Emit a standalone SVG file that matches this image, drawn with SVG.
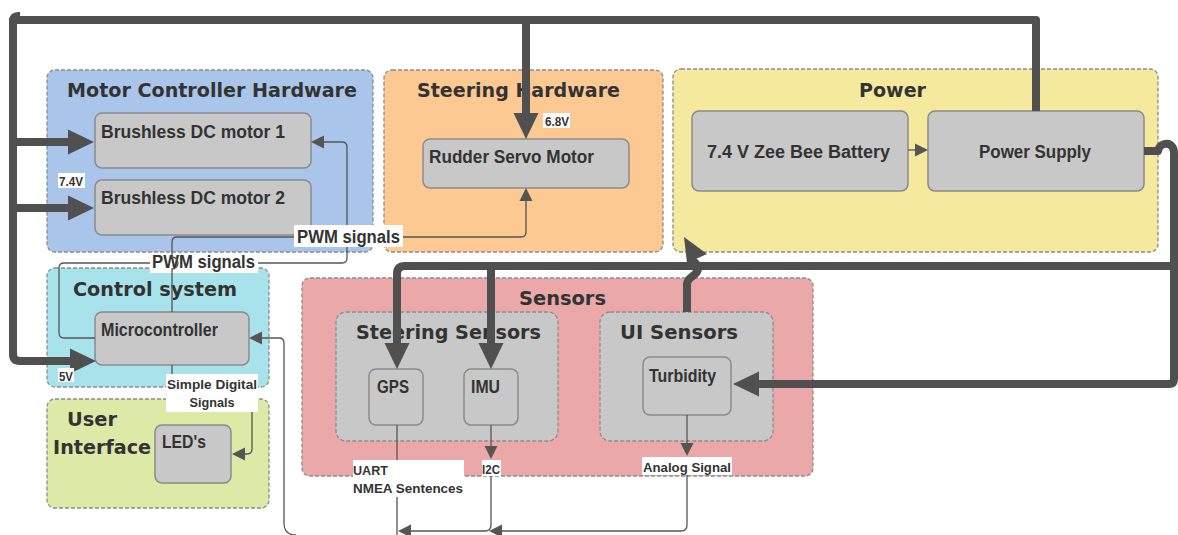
<svg xmlns="http://www.w3.org/2000/svg" width="1178" height="535" viewBox="0 0 1178 535">
<style>
.grp{stroke:#8c8c8c;stroke-width:1.3;stroke-dasharray:4 2}
.node{fill:#c8c8c8;stroke:#8a8a8a;stroke-width:1.5}
.title{font-family:'DejaVu Sans','Liberation Sans',Arial,sans-serif;font-weight:bold;font-size:19px;fill:#333}
.lbl{font-family:'Liberation Sans',Arial,sans-serif;font-weight:bold;font-size:18px;fill:#333}
.sm{font-family:'Liberation Sans',Arial,sans-serif;font-weight:bold;font-size:13.5px;fill:#333}
.tag{fill:#fff}
.thick{fill:none;stroke:#505050;stroke-width:8;stroke-linejoin:round}
.thin{fill:none;stroke:#555;stroke-width:1.3}
</style>
<defs>
<marker id="big" markerUnits="userSpaceOnUse" markerWidth="26" markerHeight="25" refX="0" refY="12.5" orient="auto" overflow="visible"><path d="M0,0 L26,12.5 L0,25 z" fill="#505050"/></marker>
<marker id="small" markerUnits="userSpaceOnUse" markerWidth="13" markerHeight="13" refX="0" refY="6.5" orient="auto" overflow="visible"><path d="M0,0 L13,6.5 L0,13 z" fill="#555"/></marker>
</defs>
<rect width="1178" height="535" fill="#fff"/>

<g id="motor-controller-hardware">
<rect class="grp" x="47" y="70" width="326" height="182" rx="8" fill="#a9c6ea"/>
<text class="title" x="67" y="97" textLength="290" lengthAdjust="spacingAndGlyphs">Motor Controller Hardware</text>
</g>
<g id="steering-hardware">
<rect class="grp" x="384" y="70" width="279" height="182" rx="8" fill="#fdc993"/>
<text class="title" x="417" y="97" textLength="203" lengthAdjust="spacingAndGlyphs">Steering Hardware</text>
</g>
<g id="power">
<rect class="grp" x="673" y="69" width="485" height="183" rx="8" fill="#f4e99d"/>
<text class="title" x="859" y="97" textLength="67" lengthAdjust="spacingAndGlyphs">Power</text>
</g>
<g id="control-system">
<rect class="grp" x="47" y="268" width="222" height="119" rx="8" fill="#a8e3ec"/>
<text class="title" x="73" y="296" textLength="164" lengthAdjust="spacingAndGlyphs">Control system</text>
</g>
<g id="user-interface">
<rect class="grp" x="47" y="399" width="222" height="109" rx="8" fill="#dde9a7"/>
<text class="title" x="67" y="426" textLength="50" lengthAdjust="spacingAndGlyphs">User</text>
<text class="title" x="53" y="454" textLength="98" lengthAdjust="spacingAndGlyphs">Interface</text>
</g>
<g id="sensors">
<rect class="grp" x="302" y="278" width="511" height="198" rx="8" fill="#eaa9a8"/>
<text class="title" x="519" y="305" textLength="87" lengthAdjust="spacingAndGlyphs">Sensors</text>
</g>
<g id="steering-sensors">
<rect class="grp" x="336" y="312" width="222" height="129" rx="10" fill="#c8c8c8"/>
<text class="title" x="356" y="339" textLength="185" lengthAdjust="spacingAndGlyphs">Steering Sensors</text>
</g>
<g id="ui-sensors">
<rect class="grp" x="600" y="312" width="173" height="129" rx="10" fill="#c8c8c8"/>
<text class="title" x="620" y="339" textLength="118" lengthAdjust="spacingAndGlyphs">UI Sensors</text>
</g>

<g id="bldc-motor-1">
<rect class="node" x="95" y="113" width="216" height="55" rx="7"/>
<text class="lbl" x="101" y="138" textLength="184" lengthAdjust="spacingAndGlyphs">Brushless  DC  motor  1</text>
</g>
<g id="bldc-motor-2">
<rect class="node" x="95" y="180" width="216" height="55" rx="7"/>
<text class="lbl" x="101" y="204" textLength="184" lengthAdjust="spacingAndGlyphs">Brushless  DC  motor  2</text>
</g>
<g id="rudder-servo">
<rect class="node" x="423" y="139" width="206" height="49" rx="7"/>
<text class="lbl" x="429" y="163" textLength="165" lengthAdjust="spacingAndGlyphs">Rudder  Servo  Motor</text>
</g>
<g id="battery">
<rect class="node" x="692" y="111" width="216" height="80" rx="7"/>
<text class="lbl" x="707" y="158" textLength="183" lengthAdjust="spacingAndGlyphs">7.4  V  Zee  Bee  Battery</text>
</g>
<g id="power-supply">
<rect class="node" x="928" y="111" width="216" height="80" rx="7"/>
<text class="lbl" x="979" y="158" textLength="112" lengthAdjust="spacingAndGlyphs">Power  Supply</text>
</g>
<g id="microcontroller">
<rect class="node" x="95" y="312" width="154" height="53" rx="7"/>
<text class="lbl" x="101" y="336" textLength="117" lengthAdjust="spacingAndGlyphs">Microcontroller</text>
</g>
<g id="leds">
<rect class="node" x="155" y="425" width="76" height="58" rx="7"/>
<text class="lbl" x="162" y="448" textLength="44" lengthAdjust="spacingAndGlyphs">LED's</text>
</g>
<g id="gps">
<rect class="node" x="369" y="369" width="54" height="56" rx="7"/>
<text class="lbl" x="377" y="393" textLength="32" lengthAdjust="spacingAndGlyphs">GPS</text>
</g>
<g id="imu">
<rect class="node" x="464" y="369" width="54" height="56" rx="7"/>
<text class="lbl" x="471" y="393" textLength="29" lengthAdjust="spacingAndGlyphs">IMU</text>
</g>
<g id="turbidity">
<rect class="node" x="643" y="357" width="88" height="58" rx="7"/>
<text class="lbl" x="649" y="382" textLength="67" lengthAdjust="spacingAndGlyphs">Turbidity</text>
</g>

<g id="connectors">
<path class="thin" d="M95,338 H64 Q59,338 59,333 V268 Q59,263 64,263 H342 Q347,263 347,258 V147 Q347,142 342,142 H324" marker-end="url(#small)"/>
<rect class="tag" x="150" y="253" width="108" height="20"/>
<text class="lbl" x="152" y="268" textLength="103" lengthAdjust="spacingAndGlyphs">PWM  signals</text>
<path class="thin" d="M172,312 V269 A6,6 0 0 0 172,257 V242 Q172,237 177,237 H521 Q526,237 526,232 V201" marker-end="url(#small)"/>
<rect class="tag" x="294" y="225" width="109" height="22"/>
<text class="lbl" x="297" y="243" textLength="103" lengthAdjust="spacingAndGlyphs">PWM  signals</text>

<path class="thin" d="M172,365 V374"/>
<rect class="tag" x="166" y="374" width="92" height="38"/>
<text class="sm" x="212" y="389" text-anchor="middle" textLength="90" lengthAdjust="spacingAndGlyphs">Simple  Digital</text>
<text class="sm" x="212" y="407" text-anchor="middle" textLength="45" lengthAdjust="spacingAndGlyphs">Signals</text>
<path class="thin" d="M252,412 V449 Q252,454 247,454 H245" marker-end="url(#small)"/>

<path class="thin" d="M296,535 Q284,535 284,523 V343 Q284,338 279,338 H262" marker-end="url(#small)"/>

<path class="thin" d="M397,425 V460"/>
<rect class="tag" x="353" y="460" width="111" height="37"/>
<text class="sm" x="353" y="475" textLength="35" lengthAdjust="spacingAndGlyphs">UART</text>
<text class="sm" x="353" y="493" textLength="110" lengthAdjust="spacingAndGlyphs">NMEA  Sentences</text>
<path class="thin" d="M397,497 V535"/>

<path class="thin" d="M491,425 V446" marker-end="url(#small)"/>
<rect class="tag" x="482" y="460" width="19" height="16"/>
<text class="sm" x="482" y="474" textLength="18" lengthAdjust="spacingAndGlyphs">I2C</text>
<path class="thin" d="M491,476 V525 Q491,531 485,531 H411" marker-end="url(#small)"/>

<path class="thin" d="M687,415 V443" marker-end="url(#small)"/>
<rect class="tag" x="642" y="457" width="90" height="18"/>
<text class="sm" x="643" y="472" textLength="88" lengthAdjust="spacingAndGlyphs">Analog  Signal</text>
<path class="thin" d="M687,475 V525 Q687,531 681,531 H502" marker-end="url(#small)"/>

<path class="thin" d="M908,150 H915" marker-end="url(#small)"/>

<path class="thick" d="M1036,111 V20 H13 V354 Q13,361 20,361 H70" marker-end="url(#big)"/>
<path d="M9,22 Q9,11 20,12 L20,20 Z" fill="#505050"/>
<path d="M1028,17 Q1041,13 1040,26 L1034,26 Z" fill="#505050"/>
<path class="thick" d="M13,142 H68" marker-end="url(#big)"/>
<path class="thick" d="M13,208 H68" marker-end="url(#big)"/>
<path class="thick" d="M526,20 V113" marker-end="url(#big)"/>
<path class="thick" d="M1144,151 H1158 C1160,141 1174,141 1174,153 V379 Q1174,384 1169,384 H759" marker-end="url(#big)"/>
<path class="thick" d="M1174,266 H405 Q397,266 397,274 V343" marker-end="url(#big)"/>
<path class="thick" d="M491,266 V343" marker-end="url(#big)"/>
<path class="thick" d="M687,312 V284 C687,276 699,276 698,267 C697,262 693,261 690,260"/>
<polygon points="684,237 707,254 687,263" fill="#505050"/>

<rect class="tag" x="58" y="173" width="27" height="15"/>
<text class="sm" x="59" y="186" textLength="24" lengthAdjust="spacingAndGlyphs">7.4V</text>
<rect class="tag" x="543" y="113" width="27" height="15"/>
<text class="sm" x="545" y="126" textLength="24" lengthAdjust="spacingAndGlyphs">6.8V</text>
<rect class="tag" x="58" y="368" width="16" height="14"/>
<text class="sm" x="59" y="381" textLength="14" lengthAdjust="spacingAndGlyphs">5V</text>
</g>
</svg>
